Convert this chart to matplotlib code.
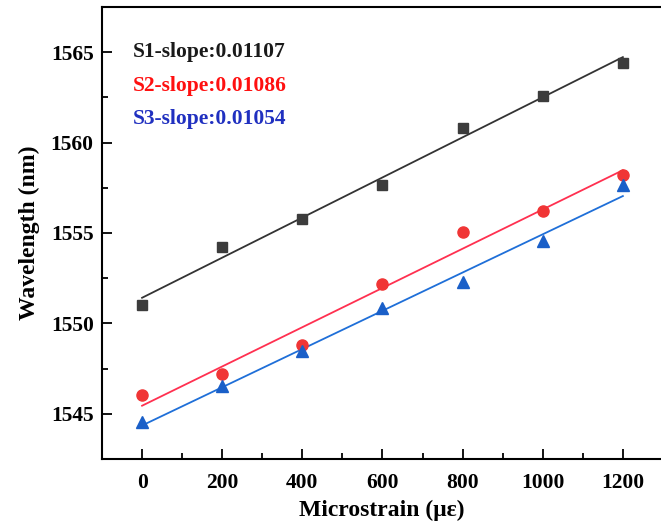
import matplotlib
matplotlib.use('Agg')
import matplotlib.pyplot as plt
import numpy as np
from matplotlib.ticker import MultipleLocator

# 数据 (微应变 vs 波长)
strain = [0, 200, 400, 600, 800, 1000, 1200]
s1_wl = [1551.0, 1554.2, 1555.8, 1557.65, 1560.83, 1562.6, 1564.43]
s2_wl = [1546.03, 1547.2, 1548.82, 1552.2, 1555.04, 1556.23, 1558.2]
s3_wl = [1544.56, 1546.52, 1548.45, 1550.85, 1552.28, 1554.58, 1557.65]
labels = ['S1-slope:0.01107', 'S2-slope:0.01086', 'S3-slope:0.01054']

plt.rcParams['font.family'] = ['Liberation Serif', 'DejaVu Serif']
plt.rcParams['font.weight'] = 'bold'

W, H = 661, 522
fig = plt.figure(figsize=(W / 100, H / 100), dpi=100)
# 右側は元画像で切れているので、軸を図の外まで伸ばす
ax = fig.add_axes([102 / W, 1 - 459 / H, (703 - 102) / W, (459 - 7) / H])

series = [
    (s1_wl, 's', '#3c3c3c', '#333333', 7),
    (s2_wl, 'o', '#f03535', '#ff3050', 8),
    (s3_wl, '^', '#1a5fc8', '#1f6fd8', 8),
]
xs = np.array(strain)
for ys, mk, mc, lc, ms in series:
    k, b = np.polyfit(xs, ys, 1)
    ax.plot(xs, k * xs + b, color=lc, lw=1.3, zorder=2)
    ax.plot(xs, ys, linestyle='none', marker=mk, color=mc, ms=ms, zorder=3)

text_colors = ['#1a1a1a', '#ff1010', '#2030c0']
text_y = [52, 86, 119]
for lab, c, ty in zip(labels, text_colors, text_y):
    fig.text(133 / W, 1 - ty / H, lab, color=c, fontsize=15.5, fontweight='bold', va='center', ha='left')

ax.set_xlim(-100, 1400)
ax.set_ylim(1542.5, 1567.5)
ax.set_xticks([0, 200, 400, 600, 800, 1000, 1200])
ax.xaxis.set_minor_locator(MultipleLocator(100))
ax.set_yticks([1545, 1550, 1555, 1560, 1565])
ax.yaxis.set_minor_locator(MultipleLocator(2.5))
ax.tick_params(which='both', direction='in', width=1.3, labelsize=15.5)
ax.tick_params(which='major', length=7)
ax.tick_params(which='minor', length=4)
ax.tick_params(axis='x', pad=10)
ax.tick_params(axis='y', pad=6)
for sp in ax.spines.values():
    sp.set_linewidth(1.5)

ax.set_xlabel('Microstrain (\u03bc\u03b5)', fontsize=17, fontweight='bold')
ax.xaxis.set_label_coords((382 - 102) / 601, -0.09)
ax.set_ylabel('Wavelength (nm)', fontsize=17, fontweight='bold', labelpad=8)

fig.savefig('out.png', dpi=100)
